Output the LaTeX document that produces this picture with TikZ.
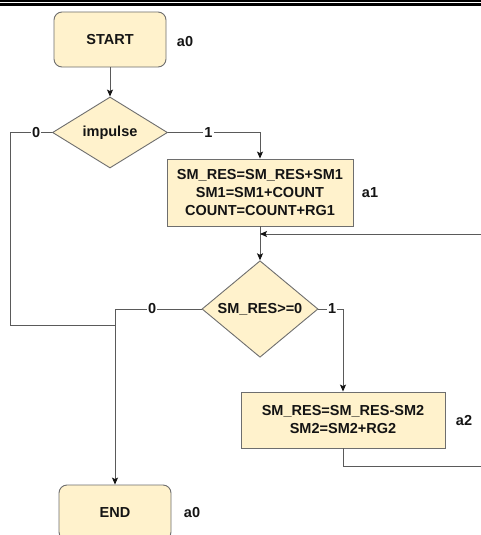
\documentclass[tikz,border=0pt]{standalone}
\usepackage{fontspec}
\setmainfont{Liberation Sans}
\usetikzlibrary{shapes.geometric,arrows.meta}

\definecolor{boxfill}{HTML}{FFF2CC}
\definecolor{boxline}{HTML}{6E6E6E}
\definecolor{wire}{HTML}{5A5A5A}
\definecolor{ink}{HTML}{141414}

\begin{document}
\begin{tikzpicture}[x=1pt,y=-1pt,
  txt/.style={font=\fontsize{14.5}{18}\selectfont\bfseries, text=ink},
  term/.style={txt, draw=boxline, fill=boxfill, line width=0.9pt, rounded corners=8pt,
    minimum width=112pt, minimum height=55pt, inner sep=0pt},
  proc/.style={txt, draw=boxline, fill=boxfill, line width=0.9pt, align=center, inner sep=0pt},
  decide/.style={txt, draw=boxline, fill=boxfill, line width=0.9pt, diamond, inner sep=0pt},
  tag/.style={txt},
  lbl/.style={txt, fill=white, inner sep=1.2pt},
  wireline/.style={draw=wire, line width=0.9pt},
  flow/.style={wireline, -{Stealth[length=7pt, width=6pt, inset=1.5pt, color=ink]}}
]
% page frame and clipping
\useasboundingbox (0,0) rectangle (481,535);
\fill[white] (0,0) rectangle (481,535);
\clip (0,0) rectangle (481,535);

% header rules
\draw[line width=1.5pt, black] (0,0.9) -- (481,0.9);
\draw[line width=2.6pt, black] (0,4.6) -- (481,4.6);

% blocks
\node[term] (start) at (110,39.5) {START};
\node[tag] (tstart) at (185,42) {a0};

\node[decide, minimum width=115pt, minimum height=71pt] (imp) at (110,132.5) {impulse};

\node[proc, minimum width=186pt, minimum height=67pt] (op1) at (260,192.5)
  {SM\_RES=SM\_RES+SM1\\SM1=SM1+COUNT\\COUNT=COUNT+RG1};
\node[tag] (tag1) at (370,193) {a1};

\node[decide, minimum width=116pt, minimum height=74pt] (cmp) at (260,309) {SM\_RES>=0};

\node[proc, minimum width=204pt, minimum height=56pt] (op2) at (343,420)
  {SM\_RES=SM\_RES-SM2\\SM2=SM2+RG2};
\node[tag] (tag2) at (464,421) {a2};

\node[term] (stop) at (115,512.5) {END};
\node[tag] (tstop) at (192,513) {a0};

% junction points and the loop-back route beyond the right edge
\coordinate (join0) at (115,325);
\coordinate (merge) at (260,234);
\coordinate (leftrail) at (10,132.5);
\coordinate (backR) at (492,466);
\coordinate (backT) at (492,234);

% connectors
\draw[flow] (start.south) -- (imp.north);
\draw[flow] (imp.east) -- node[lbl, pos=0.44] {1} (op1.north |- imp.east) -- (op1.north);
\draw[wireline] (imp.west) -- node[lbl, pos=0.38] {0} (leftrail) |- (join0);
\draw[flow] (op1.south) -- (cmp.north);
\draw[flow] (cmp.west) -- node[lbl, pos=0.57] {0} (cmp.west -| stop.north) -- (stop.north);
\draw[flow] (cmp.east) -- node[lbl, pos=0.56] {1} (cmp.east -| op2.north) -- (op2.north);
\draw[flow] (op2.south) -- (op2.south |- backR) -- (backR) -- (backT) -- (merge);
\end{tikzpicture}
\end{document}
